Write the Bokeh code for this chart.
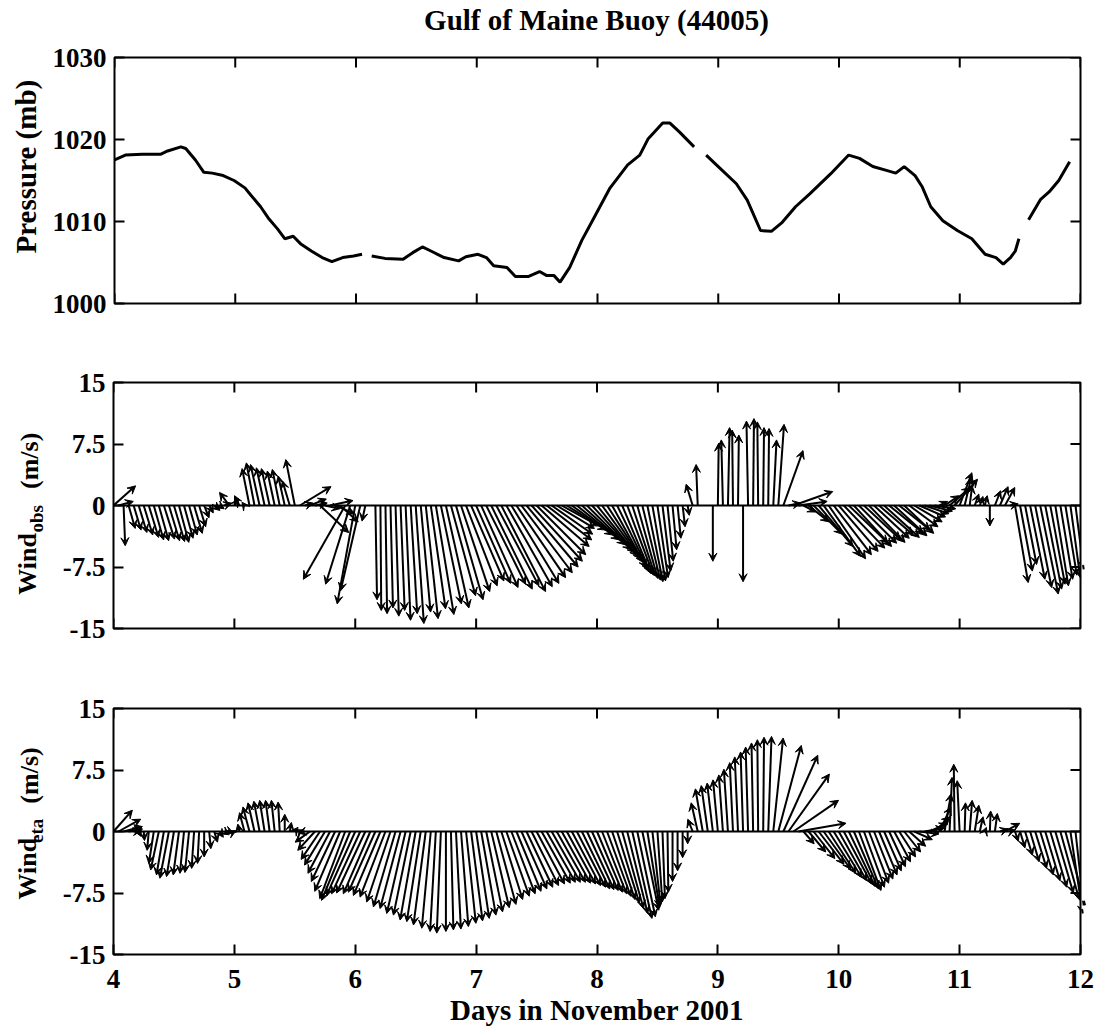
import numpy as np
from bokeh.plotting import figure
from bokeh.core.properties import value
from bokeh.models import (ColumnDataSource, Arrow, VeeHead, Span,
                          LinearAxis, FixedTicker, Range1d)
from bokeh.layouts import column, row
from bokeh.embed import file_html
from bokeh.resources import INLINE

nan = float("nan")

# ---------------------------------------------------------------- data
DAY_TICKS = [4, 5, 6, 7, 8, 9, 10, 11, 12]
P_TICKS = [1000, 1010, 1020, 1030]
W_TICKS = [-15, -7.5, 0, 7.5, 15]
W_TICK_LABELS = ["-15", "-7.5", "0", "7.5", "15"]

# sea-level pressure (day of November, mb); NaN marks missing records
P_DAY = [4.0, 4.09, 4.23, 4.38, 4.44, 4.55, 4.59, 4.67, 4.74, 4.81, 4.9, 4.99,
         5.08, 5.13, 5.21, 5.28, 5.35, 5.41, 5.48, 5.54, 5.63, 5.72, 5.8, 5.89,
         5.98, 6.05, 6.09, 6.13, 6.24, 6.39, 6.47, 6.55, 6.62, 6.73, 6.85, 6.91,
         7.01, 7.08, 7.14, 7.25, 7.32, 7.43, 7.52, 7.58, 7.64, 7.69, 7.77, 7.87,
         7.98, 8.1, 8.25, 8.35, 8.42, 8.54, 8.6, 8.68, 8.8, 8.85, 8.9, 9.0,
         9.15, 9.24, 9.35, 9.44, 9.53, 9.64, 9.76, 9.93, 10.08, 10.17, 10.28,
         10.4, 10.47, 10.54, 10.63, 10.69, 10.76, 10.86, 10.98, 11.1, 11.21,
         11.3, 11.36, 11.42, 11.46, 11.49, 11.53, 11.57, 11.67, 11.74, 11.82,
         11.91]
P_MB = [1017.5, 1018.1, 1018.2, 1018.2, 1018.6, 1019.1, 1018.9, 1017.5, 1016.0,
        1015.9, 1015.6, 1015.0, 1014.1, 1013.2, 1011.8, 1010.3, 1009.1, 1007.9,
        1008.2, 1007.3, 1006.4, 1005.6, 1005.1, 1005.6, 1005.8, 1006.0, nan,
        1005.8, 1005.5, 1005.4, 1006.2, 1006.9, 1006.4, 1005.6, 1005.2, 1005.7,
        1006.0, 1005.6, 1004.6, 1004.4, 1003.3, 1003.3, 1003.9, 1003.4, 1003.4,
        1002.6, 1004.4, 1007.7, 1010.7, 1014.0, 1016.9, 1018.1, 1020.1, 1022.0,
        1022.0, 1020.9, 1019.1, nan, 1018.1, 1016.7, 1014.6, 1012.6, 1008.9,
        1008.8, 1009.9, 1011.8, 1013.4, 1015.8, 1018.1, 1017.7, 1016.7, 1016.2,
        1015.9, 1016.7, 1015.6, 1014.2, 1011.8, 1010.1, 1008.9, 1007.9, 1006.0,
        1005.6, 1004.8, 1005.6, 1006.4, 1007.9, nan, 1010.2, 1012.7, 1013.6,
        1015.0, 1017.3]

# hourly wind components (m/s), 4 Nov 00h .. 11 Nov 23h
HOURS = 4 + np.arange(192) / 24.0

OBS_U = [
    2.7, 1.8, 0.2, 0.8, 0.9, 1.0, 1.1, 1.2, 1.2, 1.2, 1.3, 1.3, 1.3, 1.2, 1.1, 1.0, 1.0, 0.8, 0.6, 0.5, 0.7, 0.6, 0.9, -1.2,
    0.5, -0.6, -0.3, -0.9, -1.0, -1.1, -1.0, -1.0, -0.9, -0.9, -0.8, -0.9, -1.1, 3.8, 1.0, 2.0, 1.5, 3.5, 1.8, 2.8, 2.4, 2.2, -5.1, -3.0,
    -2.2, -2.4, -0.4, nan, 0.2, 0.1, 0.2, 0.3, 0.4, 0.5, 0.6, 0.8, 1.0, 1.2, 1.5, 1.8, 2.2, 2.5, 2.8, 3.0, 3.3, 3.5, 3.8, 4.0,
    4.2, 4.5, 4.8, 5.0, 5.2, 5.4, 5.6, 5.8, 6.0, 6.2, 6.3, 6.2, 6.0, 5.8, 5.5, 5.0, 4.6, 4.5, 4.8, 5.0, 5.2, 5.3, 5.4, 5.3,
    5.0, 4.8, 4.5, 4.2, 3.9, 3.5, 3.2, 2.8, 2.5, 2.2, 1.9, 1.6, 1.3, 1.0, 0.7, 0.5, 0.4, 0.3, 0.2, -0.8, -0.2, nan, nan, 0.0,
    0.1, -0.2, 0.2, -0.1, 0.1, 0.0, -0.2, 0.1, -0.1, 0.1, 0.1, 0.4, 0.7, 2.4, 1.5, 4.8, 3.5, 1.5, 2.5, 3.5, 4.2, 4.5, 4.5, 4.6,
    4.8, 5.0, 4.8, 4.6, 4.6, 4.5, 4.4, 4.3, 4.2, 4.3, 4.2, 4.0, 3.8, 3.6, 3.5, 3.4, 3.2, 3.0, 2.8, 2.6, 1.0, 1.8, 2.5, 2.8,
    1.5, 0.8, 0.3, 0.5, 0.4, 0.3, 0.0, 0.7, 1.0, 1.2, 1.0, 1.6, 1.5, 1.4, 1.8, 2.0, 2.2, 2.0, 1.8, 1.6, 1.5, 1.4, 1.2, 1.0,
]
OBS_V = [
    2.4, 0.5, -4.9, -2.8, -3.0, -3.3, -3.6, -3.9, -4.2, -4.3, -4.1, -4.3, -4.4, -4.5, -4.0, -3.6, -3.4, -2.6, -1.5, -0.9, -0.6, -0.4, 0.3, 1.6,
    0.8, 1.2, 0.4, 4.5, 5.2, 5.0, 4.6, 4.5, 4.2, 4.4, 3.6, 3.0, 5.6, 2.3, 0.3, 0.8, 0.3, -3.3, -0.4, 0.6, -1.0, -2.0, -9.0, -9.6,
    -12.0, -10.4, -1.9, nan, -11.5, -12.8, -13.2, -12.5, -13.5, -12.8, -14.0, -13.2, -14.4, -13.0, -13.8, -12.6, -13.3, -12.0, -12.5, -11.0, -11.5, -10.5, -9.8, -9.2,
    -9.5, -10.0, -9.6, -10.2, -9.8, -10.5, -9.9, -9.5, -8.8, -8.2, -7.5, -6.8, -6.0, -5.0, -4.2, -3.5, -2.8, -2.5, -3.0, -3.6, -4.2, -4.8, -5.4, -5.8,
    -6.2, -6.6, -7.0, -7.6, -8.0, -8.3, -8.5, -8.6, -8.9, -9.1, -9.3, -9.2, -8.8, -8.0, -6.8, -5.4, -4.0, -2.6, -1.2, 2.6, 5.0, nan, nan, -6.8,
    7.6, 8.0, 9.5, 9.2, 8.6, -9.3, 10.3, 10.6, 10.2, 9.5, 9.4, 8.0, 9.9, 6.7, 0.3, 1.7, 0.5, -0.8, -2.0, -3.5, -5.0, -6.2, -6.5, -6.0,
    -5.6, -5.2, -4.6, -5.0, -4.6, -4.2, -4.5, -4.0, -3.6, -3.9, -3.4, -3.7, -3.0, -3.4, -2.6, -2.0, -1.4, -1.0, -0.7, -0.4, 0.5, 1.2, 2.2, 3.2,
    4.0, 3.4, 2.4, 1.4, 1.1, 1.2, -2.5, 1.8, 2.3, 2.2, 0.2, -9.4, -8.0, -7.2, -9.0, -10.0, -10.8, -10.2, -9.6, -9.8, -9.0, -8.5, -8.8, -7.8,
]

ETA_U = [
    2.3, 2.7, 2.3, 1.7, 0.9, 0.3, 0.1, -0.2, -0.6, -1.0, -0.9, -1.1, -0.9, -0.7, -0.5, -0.5, -0.3, -0.2, 0.0, 0.2, 0.4, 0.5, 0.6, 0.5,
    0.2, -0.2, -0.6, -0.8, -0.8, -0.7, -0.6, -0.5, -0.4, -0.2, 0.0, 0.2, 0.4, 0.4, -0.8, -1.8, -2.1, -2.3, -2.5, -2.7, -2.9, -3.1, -3.1, -3.5,
    -3.5, -3.5, -3.5, -3.3, -3.3, -3.3, -3.1, -2.9, -2.7, -2.5, -2.3, -2.1, -1.9, -1.7, -1.5, -1.1, -0.7, -0.5, 0.0, 0.3, 0.6, 0.9, 1.2, 1.4,
    1.6, 1.8, 2.0, 2.2, 2.4, 2.6, 2.8, 2.9, 3.0, 3.1, 3.2, 3.3, 3.4, 3.5, 3.5, 3.5, 3.5, 3.5, 3.5, 3.5, 3.5, 3.4, 3.3, 3.2,
    3.1, 3.0, 2.9, 2.8, 2.7, 2.6, 2.5, 2.4, 2.2, 2.0, 1.5, 1.0, 0.6, 0.3, 0.1, 0.0, 0.0, 0.0, 0.0, -0.6, -0.8, -0.9, -0.8, -0.7,
    -0.6, -0.5, -0.5, -0.4, -0.4, -0.3, -0.3, -0.2, -0.1, 0.1, 0.4, 1.2, 2.8, 4.2, 5.0, 5.5, 5.8, 1.3, 2.1, 2.6, 3.1, 3.3, 3.3, 3.4,
    3.4, 3.4, 3.2, 3.0, 2.7, 2.5, 2.4, 2.3, 2.2, 2.1, 2.0, 2.0, 2.0, 2.0, 2.0, 2.2, 2.4, 2.4, 2.2, 1.9, 1.4, 0.8, 0.3, -0.1,
    -0.3, 0.1, 0.3, 0.5, 0.4, 0.2, 0.1, 0.3, 1.0, 1.8, 0.6, 0.4, 0.6, 0.9, 1.1, 1.4, 1.6, 1.8, 2.0, 2.2, 2.3, 2.4, 1.5, 1.0,
]
ETA_V = [
    2.6, 1.5, 0.6, 0.3, 0.1, -0.6, -1.1, -2.3, -3.9, -4.7, -5.3, -5.7, -5.5, -5.3, -5.1, -5.0, -4.5, -3.9, -3.1, -2.1, -1.3, -0.7, -0.4, -0.2,
    0.1, 0.9, 2.3, 3.0, 3.5, 3.7, 3.8, 3.8, 3.8, 3.6, 2.1, 1.1, 0.5, 0.2, -0.2, -1.3, -2.3, -3.4, -4.1, -5.1, -6.1, -7.3, -8.2, -8.4,
    -7.8, -7.6, -7.5, -7.6, -7.4, -7.8, -8.0, -8.6, -9.2, -9.4, -10.0, -10.2, -10.8, -11.0, -11.4, -11.8, -12.2, -12.4, -12.2, -12.0, -11.9, -11.6, -11.2, -10.9,
    -10.6, -10.2, -9.8, -9.3, -8.9, -8.3, -7.9, -7.6, -7.3, -7.0, -6.8, -6.6, -6.4, -6.3, -6.2, -6.2, -6.2, -6.3, -6.4, -6.6, -6.8, -7.0, -7.1, -7.2,
    -7.4, -7.6, -7.9, -8.3, -8.7, -9.4, -10.0, -10.6, -10.4, -9.6, -9.3, -9.0, -8.6, -8.2, -7.4, -6.1, -4.8, -3.2, -1.5, 1.5, 3.5, 5.2, 5.6, 5.9,
    6.3, 6.9, 7.6, 8.4, 9.1, 9.7, 10.3, 10.8, 11.2, 11.5, 11.6, 11.4, 10.5, 9.3, 7.0, 3.8, 1.0, -1.5, -2.5, -3.3, -4.0, -4.6, -5.1, -5.6,
    -6.0, -6.4, -6.7, -7.0, -7.2, -6.8, -6.3, -5.8, -5.3, -4.8, -4.3, -3.7, -3.1, -2.5, -1.8, -1.0, -0.3, 0.4, 1.0, 1.8, 3.0, 4.6, 6.6, 8.2,
    6.2, 3.5, 3.8, 3.2, 1.8, 0.5, 2.5, 2.2, 0.3, 1.0, 0.2, -1.2, -2.0, -2.9, -3.7, -4.5, -5.3, -6.0, -6.8, -7.5, -8.3, -9.0, -10.0, -9.0,
]

# ---------------------------------------------------------------- layout
FONT = "Liberation Serif"
WIDTH = 1105
TITLE_H = 38                 # strip above the first panel
LABEL_W = 49                 # strip that carries the rotated y titles
LEFT, RIGHT = 64, 25         # borders of the plotting figures
FRAME_W = WIDTH - LABEL_W - LEFT - RIGHT
FRAME_H = 246
TICK_LEN = 10
X0, X1 = 4, 12
W0, W1 = -15, 15


def style_axis(ax, standoff):
    ax.axis_line_color = None
    ax.major_tick_in = TICK_LEN
    ax.major_tick_out = 0
    ax.major_tick_line_width = 2
    ax.major_tick_line_color = "black"
    ax.minor_tick_line_color = None
    ax.major_label_text_font = FONT
    ax.major_label_text_font_style = "bold"
    ax.major_label_text_font_size = "27px"
    ax.major_label_text_color = "black"
    ax.major_label_standoff = standoff


def box_ticks(p, y_range, yticks, with_bottom):
    """Inward ticks on the sides that carry no labelled axis."""
    dy = TICK_LEN * (y_range[1] - y_range[0]) / FRAME_H
    dx = TICK_LEN * (X1 - X0) / FRAME_W
    n = len(DAY_TICKS)
    p.segment(x0=DAY_TICKS, y0=[y_range[1]] * n, x1=DAY_TICKS,
              y1=[y_range[1] - dy] * n, line_color="black", line_width=2)
    if with_bottom:
        p.segment(x0=DAY_TICKS, y0=[y_range[0]] * n, x1=DAY_TICKS,
                  y1=[y_range[0] + dy] * n, line_color="black", line_width=2)
    m = len(yticks)
    p.segment(x0=[X1] * m, y0=yticks, x1=[X1 - dx] * m, y1=yticks,
              line_color="black", line_width=2)


def make_panel(height, top, bottom, y_range, yticks, ylabels, x_labels):
    p = figure(width=WIDTH - LABEL_W, height=height, title=None,
               x_range=Range1d(X0, X1), y_range=Range1d(*y_range),
               x_axis_type=None, y_axis_type=None,
               output_backend="svg", toolbar_location=None,
               min_border_left=LEFT, min_border_right=RIGHT,
               min_border_top=top, min_border_bottom=bottom)
    p.outline_line_color = "black"
    p.outline_line_width = 2
    p.background_fill_color = "white"
    p.border_fill_color = "white"

    ax = LinearAxis(ticker=FixedTicker(ticks=yticks),
                    major_label_overrides={t: s for t, s in zip(yticks, ylabels)})
    style_axis(ax, 8)
    p.add_layout(ax, "left")
    if x_labels:
        ax = LinearAxis(ticker=FixedTicker(ticks=DAY_TICKS))
        style_axis(ax, 15)
        p.add_layout(ax, "below")
    box_ticks(p, y_range, yticks, not x_labels)
    return p, ax


def text_strip(width, height, pieces):
    """Bare figure with pixel-sized ranges that holds title texts."""
    s = figure(width=width, height=height, title=None,
               x_range=Range1d(0, width), y_range=Range1d(0, height),
               x_axis_type=None, y_axis_type=None,
               output_backend="svg", toolbar_location=None,
               min_border_left=0, min_border_right=0, min_border_top=0,
               min_border_bottom=0)
    s.outline_line_color = None
    s.background_fill_color = "white"
    s.border_fill_color = "white"
    for x, y, text, size, angle, align, baseline in pieces:
        s.text(x=[x], y=[y], text=[text], angle=angle,
               text_align=align, text_baseline=baseline,
               text_font=value(FONT), text_font_style=value("bold"),
               text_font_size=value(size), text_color="black")
    return s


def ylabel_pieces(pieces):
    return [(x, y, t, size, np.pi / 2, "left", "middle")
            for x, y, t, size in pieces]


def stick_plot(p, u, v):
    u = np.asarray(u, dtype=float)
    v = np.asarray(v, dtype=float)
    keep = ~np.isnan(u)
    # days per (m/s) so that sticks keep their true direction on screen
    scale = (FRAME_H / (W1 - W0)) / (FRAME_W / (X1 - X0))
    t = HOURS[keep]
    src = ColumnDataSource(dict(x0=t, y0=np.zeros(len(t)),
                                x1=t + u[keep] * scale, y1=v[keep]))
    p.add_layout(Span(location=0, dimension="width", line_color="black",
                      line_width=2))
    p.add_layout(Arrow(source=src, x_start="x0", y_start="y0",
                       x_end="x1", y_end="y1",
                       line_color="black", line_width=2.0,
                       end=VeeHead(size=8, fill_color="black",
                                   line_color="black", line_width=1)))


H1, H2, H3 = 302, 328, 362

# title
title = text_strip(WIDTH, TITLE_H,
                   [(596, 19, "Gulf of Maine Buoy (44005)", "29px", 0.0,
                     "center", "alphabetic")])

# pressure panel
p1, _ = make_panel(H1, 19, 37, (1000, 1030), P_TICKS,
                   [str(t) for t in P_TICKS], False)
p1.line(P_DAY, P_MB, line_color="black", line_width=3)
s1 = text_strip(LABEL_W, H1, [(25, 168, "Pressure (mb)", "29px", np.pi / 2,
                               "center", "middle")])

# observed wind
p2, _ = make_panel(H2, 42, 40, (W0, W1), W_TICKS, W_TICK_LABELS, False)
stick_plot(p2, OBS_U, OBS_V)
s2 = text_strip(LABEL_W, H2, ylabel_pieces([(27, 45, "Wind", "26px"),
                                            (36, 128, "obs", "19px"),
                                            (29, 186, "(m/s)", "26px")]))

# Eta model wind
p3, xax = make_panel(H3, 40, 76, (W0, W1), W_TICKS, W_TICK_LABELS, True)
stick_plot(p3, ETA_U, ETA_V)
xax.axis_label = "Days in November 2001"
xax.axis_label_text_font = FONT
xax.axis_label_text_font_style = "bold"
xax.axis_label_text_font_size = "29px"
xax.axis_label_text_color = "black"
xax.axis_label_standoff = 3
s3 = text_strip(LABEL_W, H3, ylabel_pieces([(27, 81, "Wind", "26px"),
                                            (36, 164, "eta", "19px"),
                                            (29, 222, "(m/s)", "26px")]))

layout = column(title,
                row(s1, p1, spacing=0),
                row(s2, p2, spacing=0),
                row(s3, p3, spacing=0), spacing=0)
open("out.html", "w").write(file_html(layout, INLINE, "Gulf of Maine Buoy (44005)"))
